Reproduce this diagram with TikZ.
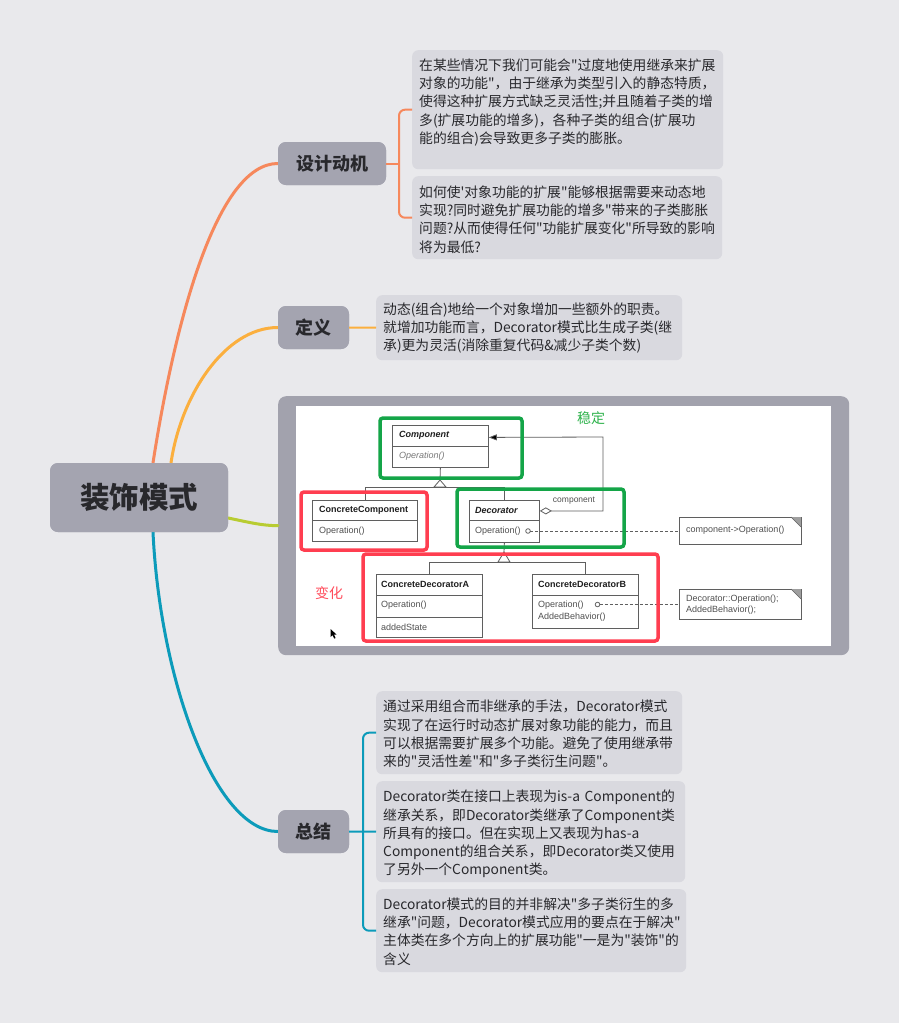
\documentclass[tikz,border=0pt]{standalone}
\usepackage{fontspec}
\newfontfamily\cjk{Noto Sans CJK SC}
\newfontfamily\uf{Liberation Sans}
\usetikzlibrary{arrows.meta}
\definecolor{bg}{RGB}{233,233,236}
\definecolor{topic}{RGB}{164,164,176}
\definecolor{leafc}{RGB}{217,217,223}
\definecolor{ink}{RGB}{40,40,44}
\definecolor{cOrange}{RGB}{246,136,92}
\definecolor{cAmber}{RGB}{251,175,62}
\definecolor{cLime}{RGB}{184,204,50}
\definecolor{cTeal}{RGB}{12,155,186}
\definecolor{frameC}{RGB}{162,162,173}
\definecolor{umlline}{RGB}{95,95,95}
\definecolor{umltext}{RGB}{80,80,80}
\definecolor{umlname}{RGB}{30,30,30}
\definecolor{umlital}{RGB}{120,120,120}
\definecolor{hiGreen}{RGB}{20,165,72}
\definecolor{hiRed}{RGB}{255,62,80}
\definecolor{txtGreen}{RGB}{45,178,75}
\definecolor{txtRed}{RGB}{255,75,90}
\begin{document}
\begin{tikzpicture}[x=1pt,y=-1pt,
  topicbox/.style={fill=topic, rounded corners=8pt, inner sep=0pt, text=ink, font=\cjk\bfseries\fontsize{18}{20}\selectfont},
  leafbox/.style={fill=leafc, rounded corners=6pt, inner sep=0pt, anchor=north west},
  leaftext/.style={anchor=north west, inner sep=0pt, text width=340pt, align=left, text=ink, font=\cjk\fontsize{13.8}{18.3}\selectfont},
  branch/.style={line width=3pt, line cap=round},
  twig/.style={line width=2pt},
  cls/.style={draw=umlline, line width=0.8pt, fill=white, inner sep=0pt, anchor=north west},
  div/.style={draw=umlline, line width=0.8pt},
  uname/.style={anchor=west, inner sep=0pt, text=umlname, font=\uf\bfseries\fontsize{9}{10.5}\selectfont},
  uop/.style={anchor=west, inner sep=0pt, text=umltext, font=\uf\fontsize{9}{10.5}\selectfont},
  rel/.style={draw=umlline, line width=0.8pt},
  notebox/.style={draw=umlline, line width=0.8pt, fill=white, inner sep=0pt, anchor=north west},
  hiG/.style={draw=hiGreen, line width=3.5pt, rounded corners=3pt},
  hiR/.style={draw=hiRed, line width=3.5pt, rounded corners=3pt}
]
% canvas
\useasboundingbox (0,0) rectangle (899,1023);
\fill[bg] (0,0) rectangle (899,1023);

% ---------- topic nodes (positions only, drawn after the branches) ----------
\path node[topicbox, minimum width=178pt, minimum height=69pt] (root) at (139,497.5) {};
\path node[topicbox, minimum width=108pt, minimum height=43pt] (mot) at (332,163.5) {};
\path node[topicbox, minimum width=71pt, minimum height=43pt] (def) at (313.5,327.5) {};
\path node[topicbox, minimum width=71pt, minimum height=43pt] (sum) at (313.5,831.5) {};
\path node[fill=frameC, rounded corners=8pt, minimum width=571pt, minimum height=259pt, anchor=north west, inner sep=0pt] (img) at (278,396) {};

% ---------- main branches ----------
\draw[branch, cOrange] ([xshift=14pt]root.north) .. controls (176,315) and (218,163.5) .. (mot.west);
\draw[branch, cAmber] ([xshift=32pt]root.north) .. controls (181,395) and (225,327.5) .. (def.west);
\draw[branch, cLime] ([yshift=-20.5pt]root.east) .. controls (252,523) and (262,525.5) .. (img.west);
\draw[branch, cTeal] ([xshift=14pt]root.south) .. controls (160,680) and (215,831.5) .. (sum.west);

% ---------- topic boxes ----------
\node[topicbox, minimum width=178pt, minimum height=69pt, font=\cjk\bfseries\fontsize{29.5}{32}\selectfont] (rootT) at (139,497.5) {装饰模式};
\node[topicbox, minimum width=108pt, minimum height=43pt] (motT) at (332,163.5) {设计动机};
\node[topicbox, minimum width=71pt, minimum height=43pt] (defT) at (313.5,327.5) {定义};
\node[topicbox, minimum width=71pt, minimum height=43pt] (sumT) at (313.5,831.5) {总结};

% ---------- leaves ----------
\node[leafbox, minimum width=311pt, minimum height=119pt] (lf1) at (412,50) {};
\node[leafbox, minimum width=310pt, minimum height=83pt] (lf2) at (412,176) {};
\node[leafbox, minimum width=306pt, minimum height=65pt] (lf3) at (376,295) {};
\node[leafbox, minimum width=306pt, minimum height=83pt] (lf4) at (376,691) {};
\node[leafbox, minimum width=309pt, minimum height=101pt] (lf5) at (376,781) {};
\node[leafbox, minimum width=310pt, minimum height=83pt] (lf6) at (376,889) {};

\node[leaftext] (t1) at (419,55) {\rule{0pt}{15pt}在某些情况下我们可能会"过度地使用继承来扩展\\
对象的功能"，由于继承为类型引入的静态特质，\\
使得这种扩展方式缺乏灵活性;并且随着子类的增\\
多(扩展功能的增多)，各种子类的组合(扩展功\\
能的组合)会导致更多子类的膨胀。};
\node[leaftext] (t2) at (419,182) {\rule{0pt}{15pt}如何使'对象功能的扩展"能够根据需要来动态地\\
实现?同时避免扩展功能的增多"带来的子类膨胀\\
问题?从而使得任何"功能扩展变化"所导致的影响\\
将为最低?};
\node[leaftext] (t3) at (383,299) {\rule{0pt}{15pt}动态(组合)地给一个对象增加一些额外的职责。\\
就增加功能而言，Decorator模式比生成子类(继\\
承)更为灵活(消除重复代码\&减少子类个数)};
\node[leaftext] (t4) at (383,696.5) {\rule{0pt}{15pt}通过采用组合而非继承的手法，Decorator模式\\
实现了在运行时动态扩展对象功能的能力，而且\\
可以根据需要扩展多个功能。避免了使用继承带\\
来的"灵活性差"和"多子类衍生问题"。};
\node[leaftext] (t5) at (383,786.5) {\rule{0pt}{15pt}Decorator类在接口上表现为is-a Component的\\
继承关系，即Decorator类继承了Component类\\
所具有的接口。但在实现上又表现为has-a\\
Component的组合关系，即Decorator类又使用\\
了另外一个Component类。};
\node[leaftext] (t6) at (383,894) {\rule{0pt}{15pt}Decorator模式的目的并非解决"多子类衍生的多\\
继承"问题，Decorator模式应用的要点在于解决"\\
主体类在多个方向上的扩展功能"一是为"装饰"的\\
含义};

% ---------- sub-branches ----------
\coordinate (bx) at (399,163.5);
\draw[twig, cOrange, rounded corners=6pt] (lf1.west) -| (bx) |- (lf2.west);
\draw[twig, cOrange] (motT.east) -- (bx);
\draw[twig, cAmber] (defT.east) -- (lf3.west);
\coordinate (sx) at (363,831.5);
\draw[twig, cTeal, rounded corners=6pt] (lf4.west) -| (sx) |- (lf6.west);
\draw[twig, cTeal] (sumT.east) -- (lf5.west);

% ---------- class diagram ----------
\node[fill=white, minimum width=535pt, minimum height=239.5pt, anchor=north west, inner sep=0pt] (canvas) at (296,406) {};

% Component
\node[cls, minimum width=96pt, minimum height=42pt] (comp) at (392,425) {};
\draw[div] (392,446) -- (488,446);
\node[uname, font=\uf\bfseries\itshape\fontsize{9}{10.5}\selectfont] (compN) at (399,435.5) {Component};
\node[uop, text=umlital, font=\uf\itshape\fontsize{9}{10.5}\selectfont] (compO) at (399,456.5) {Operation()};

% ConcreteComponent
\node[cls, minimum width=105pt, minimum height=41pt] (cc) at (312,500) {};
\draw[div] (312,520.5) -- (417,520.5);
\node[uname] (ccN) at (319,510.5) {ConcreteComponent};
\node[uop] (ccO) at (319,531) {Operation()};

% Decorator
\node[cls, minimum width=70pt, minimum height=42pt] (dec) at (469,500) {};
\draw[div] (469,520.5) -- (539,520.5);
\node[uname, font=\uf\bfseries\itshape\fontsize{9}{10.5}\selectfont] (decN) at (475,510.5) {Decorator};
\node[uop] (decO) at (475,531) {Operation()};

% ConcreteDecoratorA
\node[cls, minimum width=106pt, minimum height=63pt] (cda) at (376,574) {};
\draw[div] (376,595) -- (482,595);
\draw[div] (376,617) -- (482,617);
\node[uname] (cdaN) at (381,584.5) {ConcreteDecoratorA};
\node[uop] (cdaO) at (381,605.5) {Operation()};
\node[uop] (cdaS) at (381,627) {addedState};

% ConcreteDecoratorB
\node[cls, minimum width=106pt, minimum height=54pt] (cdb) at (532,574) {};
\draw[div] (532,595) -- (638,595);
\node[uname] (cdbN) at (538,584.5) {ConcreteDecoratorB};
\node[uop] (cdbO) at (538,605) {Operation()};
\node[uop] (cdbB) at (538,617) {AddedBehavior()};

% notes
\node[notebox, minimum width=122pt, minimum height=27pt] (n1) at (679,517) {};
\fill[umlline!60] (791,517) -- (801,517) -- (801,527) -- cycle;
\draw[umlline, line width=0.6pt] (791,517) -- (801,527);
\node[uop] (n1T) at (686,530.5) {component->Operation()};
\node[notebox, minimum width=122pt, minimum height=30pt] (n2) at (679,589) {};
\fill[umlline!60] (791,589) -- (801,589) -- (801,599) -- cycle;
\draw[umlline, line width=0.6pt] (791,589) -- (801,599);
\node[uop, align=left, font=\uf\fontsize{9}{10.5}\selectfont] (n2T) at (686,604.5) {Decorator::Operation();\\AddedBehavior();};

% generalization Component <- ConcreteComponent / Decorator
\coordinate (g1) at (440,487);
\draw[rel] (comp.south) -- (440,480);
\draw[rel, fill=white] (440,480) -- (434,487) -- (446,487) -- cycle;
\draw[rel] (cc.north) -- (cc.north |- g1) -- (dec.north |- g1) -- (dec.north);

% generalization Decorator <- ConcreteDecoratorA / B
\coordinate (g2) at (504,562);
\draw[rel] (dec.south) -- (504,552);
\draw[rel, fill=white] (504,552) -- (498,562) -- (510,562) -- cycle;
\draw[rel] (cda.north) -- (cda.north |- g2) -- (cdb.north |- g2) -- (cdb.north);

% aggregation Decorator <>-- Component
\coordinate (ab) at (603,437);
\draw[rel, {Diamond[open,length=12pt,width=7pt]}-{Triangle[length=8pt,width=6pt,fill=black]}]
  ([yshift=10.5pt]dec.east) -| (ab) -- ([yshift=9pt]comp.east);
\node[uop, anchor=center, font=\uf\fontsize{8.5}{10}\selectfont] (aggL) at (574,500.5) {component};

% note anchors
\draw[rel] (528,531) circle (2.3pt);
\coordinate (c1) at (530.3,531);
\draw[rel, dash pattern=on 3pt off 2pt] (c1) -- (n1.west |- c1);
\draw[rel] (597.5,604.5) circle (2.3pt);
\coordinate (c2) at (599.8,604.5);
\draw[rel, dash pattern=on 3pt off 2pt] (c2) -- (n2.west |- c2);

% highlight frames
\draw[hiG] (380,418) rectangle (522,478);
\draw[hiG] (457,489) rectangle (624,547);
\draw[hiR] (301,492) rectangle (427,550);
\draw[hiR] (363,554) rectangle (658,641);
\node[text=txtGreen, font=\cjk\fontsize{14}{16}\selectfont, inner sep=0pt] (stable) at (591,418) {稳定};
\node[text=txtRed, font=\cjk\fontsize{14}{16}\selectfont, inner sep=0pt] (change) at (329,593) {变化};

% pointer
\fill[black] (330.5,629) -- (330.5,637) -- (332.5,635.2) -- (334.2,638.6) -- (335.6,638) -- (334,634.6) -- (336.6,634.6) -- cycle;
\end{tikzpicture}
\end{document}
